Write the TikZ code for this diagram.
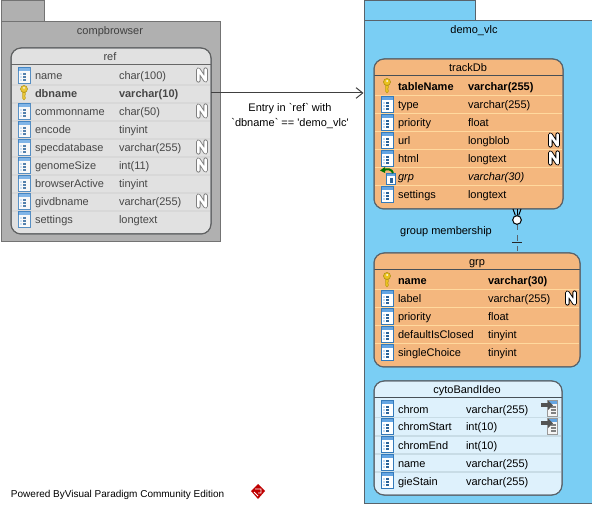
\documentclass[tikz,border=0pt]{standalone}
\usepackage{fontspec}
\setmainfont{Liberation Sans}
\newfontfamily\plainfont{Liberation Sans}
\usepackage{tikz}
\usetikzlibrary{arrows.meta}

\definecolor{pkggray}{HTML}{B0B0B0}
\definecolor{pkgblue}{HTML}{7ACEF4}
\definecolor{tblgray}{HTML}{E1E1E1}
\definecolor{sepgray}{HTML}{D8D8D8}
\definecolor{tblorange}{HTML}{F4B77E}
\definecolor{seporange}{HTML}{FFD99E}
\definecolor{tblpale}{HTML}{DEF1FC}
\definecolor{seppale}{HTML}{C8DCE6}
\definecolor{edgegray}{HTML}{59636B}
\definecolor{iconblue}{HTML}{3D8FDC}
\definecolor{keygold}{HTML}{EBC21E}

\tikzset{
  txt/.style={font=\fontsize{8.25}{10}\selectfont, inner sep=0pt, outer sep=0pt, text height=7.5pt, text depth=1.5pt},
  rowname/.style={txt, anchor=west},
  rowbold/.style={rowname, font=\bfseries\fontsize{8.25}{10}\selectfont},
  rowital/.style={rowname, font=\itshape\fontsize{8.25}{10}\selectfont},
  grayrow/.style={rowname, text=black!72},
  graybold/.style={rowbold, text=black!72},
  pkgbox/.style={draw=edgegray, line width=.75pt},
  tblbox/.style={draw=edgegray, line width=.75pt, rounded corners=7.5pt},
  % column icon, key icon and the other small marks of a row
  colicon/.pic={
    \fill[white] (-6,-8) rectangle (6,8);
    \fill[iconblue!80] (-6,-8) rectangle (6,-4);
    \draw[iconblue!85!black, line width=.6pt] (-6,-8) rectangle (6,8);
    \foreach \yy in {-1,2,5} \fill[iconblue!70!black] (-1.5,\yy-.7) rectangle (1.5,\yy+.7);
    \foreach \yy in {-1,2,5} \fill[iconblue!30] (-4,\yy-.7) rectangle (-2.5,\yy+.7);
  },
  keyicon/.pic={
    \draw[keygold!80!black, fill=keygold, line width=.4pt] (-1.3,-1) -- (-1.3,5.5) -- (0,7) -- (1.3,5.5) -- (1.3,4) -- (.5,3) -- (1.3,2) -- (1.3,-1) -- cycle;
    \draw[keygold!75!black, fill=keygold, line width=.5pt] (0,-4) circle (3.5);
    \fill[white] (0,-5) circle (1);
  },
  nullicon/.pic={
    \draw[#1, line width=3.3pt, line join=round, line cap=round] (-3.6,5.4) -- (-3.6,-5.4) -- (3.6,5.4) -- (3.6,-5.4);
    \draw[white, line width=1.9pt, line join=round, line cap=round] (-3.6,5.4) -- (-3.6,-5.4) -- (3.6,5.4) -- (3.6,-5.4);
  },
  fkicon/.pic={
    \fill[white] (-1,-4) rectangle (8,7);
    \fill[iconblue!80] (-1,-4) rectangle (8,-1);
    \draw[iconblue!85!black, line width=.5pt] (-1,-4) rectangle (8,7);
    \fill[iconblue!70!black] (2.5,1) rectangle (5.5,6);
    \draw[green!45!black, line width=1.5pt] (6,-4) .. controls (5,-8) and (0,-8.5) .. (-3,-7);
    \fill[green!45!black] (-7,-6.5) -- (-2,-10) -- (-2,-4) -- cycle;
  },
  refbadge/.pic={
    \fill[white!92!gray] (-5,-8) rectangle (5,8);
    \fill[iconblue!80] (-5,-8) rectangle (5,-4);
    \draw[gray!80, line width=.5pt] (-5,-8) rectangle (5,8);
    \foreach \yy in {-1,2,5} \fill[gray] (-1,\yy-.7) rectangle (3.5,\yy+.7);
    \fill[gray!65!black] (-11,-4.5) rectangle (-3,-1);
    \fill[gray!65!black] (-4,-7.5) -- (1,-2.7) -- (-4,2) -- cycle;
  },
}

\begin{document}
\begin{tikzpicture}[x=.75pt,y=-.75pt]
  \useasboundingbox (0,0) rectangle (592,505);
  \fill[white] (0,0) rectangle (592,505);

  % package compbrowser
  \draw[pkgbox, draw=black!55, fill=pkggray] (1,1) rectangle (44,22);
  \draw[pkgbox, draw=black!55, fill=pkggray] (1,22) rectangle (220,242);
  \node[txt, text=black!75] (compbrowser) at (110,31) {compbrowser};

  % table ref
  \path[tblbox, fill=tblgray] (11,48) rectangle (211,234);
  \foreach \yy in {85,103,121,139,157,175,193,211} \fill[sepgray] (12,\yy-1) rectangle (210,\yy+1);
  \draw[black!60, line width=.6pt] (11,64.5) -- (211,64.5);
  \draw[tblbox, draw=black!62] (11,48) rectangle (211,234);
  \node[txt, text=black!75] (reftitle) at (110,57) {ref};
  \path (24,75) pic[opacity=.8] {colicon};
  \node[grayrow] (refname) at (35,76) {name};
  \node[grayrow] (refnametype) at (119,76) {char(100)};
  \path (202,75) pic {nullicon=gray};
  \path (24,93) pic[opacity=.85] {keyicon};
  \node[graybold] (refdbname) at (35,94) {dbname};
  \node[graybold] (refdbnametype) at (119,94) {varchar(10)};
  \path (24,111) pic[opacity=.8] {colicon};
  \node[grayrow] (refcommon) at (35,112) {commonname};
  \node[grayrow] (refcommontype) at (119,112) {char(50)};
  \path (202,111) pic {nullicon=gray};
  \path (24,129) pic[opacity=.8] {colicon};
  \node[grayrow] (refencode) at (35,130) {encode};
  \node[grayrow] (refencodetype) at (119,130) {tinyint};
  \path (24,147) pic[opacity=.8] {colicon};
  \node[grayrow] (refspec) at (35,148) {specdatabase};
  \node[grayrow] (refspectype) at (119,148) {varchar(255)};
  \path (202,147) pic {nullicon=gray};
  \path (24,165) pic[opacity=.8] {colicon};
  \node[grayrow] (refgenome) at (35,166) {genomeSize};
  \node[grayrow] (refgenometype) at (119,166) {int(11)};
  \path (202,165) pic {nullicon=gray};
  \path (24,183) pic[opacity=.8] {colicon};
  \node[grayrow] (refactive) at (35,184) {browserActive};
  \node[grayrow] (refactivetype) at (119,184) {tinyint};
  \path (24,201) pic[opacity=.8] {colicon};
  \node[grayrow] (refgiv) at (35,202) {givdbname};
  \node[grayrow] (refgivtype) at (119,202) {varchar(255)};
  \path (202,201) pic {nullicon=gray};
  \path (24,219) pic[opacity=.8] {colicon};
  \node[grayrow] (refsettings) at (35,220) {settings};
  \node[grayrow] (refsettingstype) at (119,220) {longtext};

  % package demo_vlc
  \draw[pkgbox, fill=pkgblue] (364,1) rectangle (475,21);
  \fill[pkgblue] (364,21) rectangle (592,503);
  \draw[pkgbox] (592,21) -- (364,21) -- (364,503) -- (592,503);
  \node[txt] (demovlc) at (474,30) {demo\_vlc};

  % table trackDb
  \path[tblbox, fill=tblorange] (374,59) rectangle (563,209);
  \foreach \yy in {95,113,131,149,167,185} \fill[seporange] (375,\yy) rectangle (562,\yy+1.5);
  \draw[edgegray!80!black, line width=.6pt] (374,75.5) -- (563,75.5);
  \draw[tblbox] (374,59) rectangle (563,209);
  \node[txt] (tracktitle) at (468,68) {trackDb};
  \path (387,86) pic {keyicon};
  \node[rowbold] (tracktable) at (398,87) {tableName};
  \node[rowbold] (tracktabletype) at (468,87) {varchar(255)};
  \path (387,104) pic {colicon};
  \node[rowname] (tracktype) at (398,105) {type};
  \node[rowname] (tracktypetype) at (468,105) {varchar(255)};
  \path (387,122) pic {colicon};
  \node[rowname] (trackprio) at (398,123) {priority};
  \node[rowname] (trackpriotype) at (468,123) {float};
  \path (387,140) pic {colicon};
  \node[rowname] (trackurl) at (398,141) {url};
  \node[rowname] (trackurltype) at (468,141) {longblob};
  \path (554,140) pic {nullicon=black};
  \path (387,158) pic {colicon};
  \node[rowname] (trackhtml) at (398,159) {html};
  \node[rowname] (trackhtmltype) at (468,159) {longtext};
  \path (554,158) pic {nullicon=black};
  \path (387,177) pic {fkicon};
  \node[rowital] (trackgrp) at (398,177) {grp};
  \node[rowital] (trackgrptype) at (468,177) {varchar(30)};
  \path (387,194) pic {colicon};
  \node[rowname] (tracksettings) at (398,195) {settings};
  \node[rowname] (tracksettingstype) at (468,195) {longtext};

  % table grp
  \path[tblbox, fill=tblorange] (374,253) rectangle (580,367);
  \foreach \yy in {289,307,325,343} \fill[seporange] (375,\yy) rectangle (579,\yy+1.5);
  \draw[edgegray!80!black, line width=.6pt] (374,269.5) -- (580,269.5);
  \draw[tblbox] (374,253) rectangle (580,367);
  \node[txt] (grptitle) at (477,262) {grp};
  \path (387,280) pic {keyicon};
  \node[rowbold] (grpname) at (398,281) {name};
  \node[rowbold] (grpnametype) at (488,281) {varchar(30)};
  \path (387,298) pic {colicon};
  \node[rowname] (grplabel) at (398,299) {label};
  \node[rowname] (grplabeltype) at (488,299) {varchar(255)};
  \path (571,298) pic {nullicon=black};
  \path (387,316) pic {colicon};
  \node[rowname] (grpprio) at (398,317) {priority};
  \node[rowname] (grppriotype) at (488,317) {float};
  \path (387,334) pic {colicon};
  \node[rowname] (grpclosed) at (398,335) {defaultIsClosed};
  \node[rowname] (grpclosedtype) at (488,335) {tinyint};
  \path (387,352) pic {colicon};
  \node[rowname] (grpsingle) at (398,353) {singleChoice};
  \node[rowname] (grpsingletype) at (488,353) {tinyint};

  % table cytoBandIdeo
  \path[tblbox, fill=tblpale] (374,381) rectangle (562,495);
  \foreach \yy in {417,435,453,471} \fill[seppale] (375,\yy) rectangle (561,\yy+1.5);
  \draw[edgegray!80!black, line width=.6pt] (374,397.5) -- (562,397.5);
  \draw[tblbox] (374,381) rectangle (562,495);
  \node[txt] (cytotitle) at (467,390) {cytoBandIdeo};
  \path (387,408) pic {colicon};
  \node[rowname] (cytochrom) at (398,409) {chrom};
  \node[rowname] (cytochromtype) at (466,409) {varchar(255)};
  \path (552,408) pic {refbadge};
  \path (387,426) pic {colicon};
  \node[rowname] (cytostart) at (398,427) {chromStart};
  \node[rowname] (cytostarttype) at (466,427) {int(10)};
  \path (552,426) pic {refbadge};
  \path (387,444) pic {colicon};
  \node[rowname] (cytoend) at (398,445) {chromEnd};
  \node[rowname] (cytoendtype) at (466,445) {int(10)};
  \path (387,462) pic {colicon};
  \node[rowname] (cytoname) at (398,463) {name};
  \node[rowname] (cytonametype) at (466,463) {varchar(255)};
  \path (387,480) pic {colicon};
  \node[rowname] (cytogie) at (398,481) {gieStain};
  \node[rowname] (cytogietype) at (466,481) {varchar(255)};

  % connectors
  \coordinate (refout) at (211,93);
  \coordinate (demoin) at (363.5,93);
  \draw[black!75, line width=.75pt, -{Straight Barb[length=5pt,width=8pt]}] (refout) -- (demoin);
  \node[txt, font=\plainfont\fontsize{8.25}{10}\selectfont, align=center] (entrylabel) at (290,122.5) {Entry in `ref` with\\[1.5pt]`dbname` == 'demo\_vlc'};

  \coordinate (trackout) at (517,209);
  \coordinate (grpin) at (517,253);
  \coordinate (tineleft) at (513,209);
  \coordinate (tineright) at (521,209);
  \node[circle, draw=black, fill=white, line width=.75pt, minimum size=6.5pt, inner sep=0pt] (optring) at (517,220) {};
  \draw[black, line width=.75pt] (optring) -- (tineleft);
  \draw[black, line width=.75pt] (optring) -- (tineright);
  \draw[black, line width=.75pt] (optring) -- (trackout);
  \draw[edgegray, line width=.6pt, dash pattern=on 4pt off 4pt] (optring) -- (grpin);
  \coordinate (barleft) at (512,243);
  \coordinate (barright) at (522,243);
  \draw[black!85, line width=.75pt] (barleft) -- (barright);
  \node[txt] (grouplabel) at (446,231) {group membership};

  % footer
  \node[txt, anchor=west, font=\fontsize{7.5}{9}\selectfont] (poweredby) at (11,493) {Powered ByVisual Paradigm Community Edition};
  \fill[red!75!black] (258,484) -- (265,491) -- (258,499) -- (251,491) -- cycle;
  \draw[white, line width=.6pt] (255,489) -- (261,489) -- (261,493) -- (258,493) (254,492) -- (258,496);
\end{tikzpicture}
\end{document}
